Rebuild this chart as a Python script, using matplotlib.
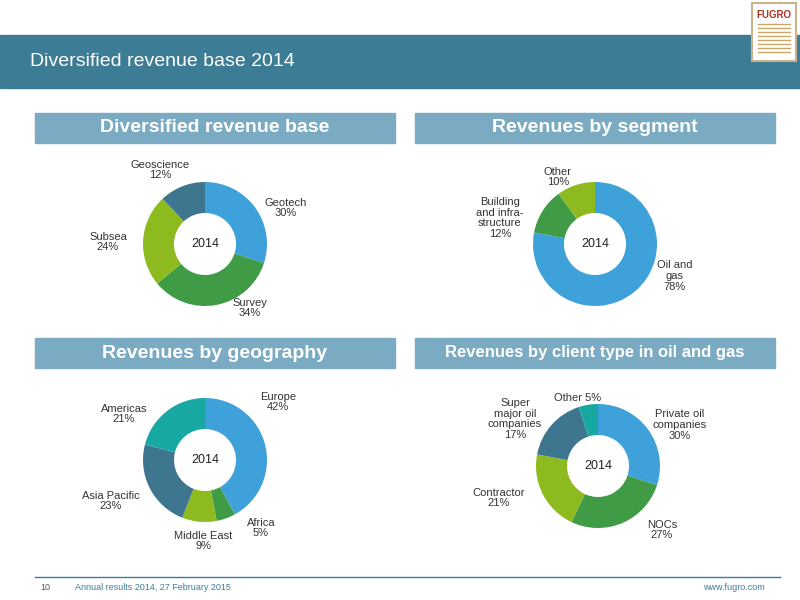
import matplotlib
matplotlib.use("Agg")
import matplotlib.pyplot as plt
from matplotlib.patches import Rectangle
plt.rcParams['font.family'] = ['Liberation Sans', 'DejaVu Sans']

BLUE, GREEN, LIME, DTEAL, TEAL = "#3fa1d9", "#3f9b46", "#8dbb1f", "#3f768f", "#17a8a1"

seg1_names = ["Geotech", "Survey", "Subsea", "Geoscience"]
seg1_vals = [30, 34, 24, 12]
seg2_names = ["Oil and\ngas", "Building\nand infra-\nstructure", "Other"]
seg2_vals = [78, 12, 10]
seg3_names = ["Europe", "Africa", "Middle East", "Asia Pacific", "Americas"]
seg3_vals = [42, 5, 9, 23, 21]
seg4_names = ["Private oil\ncompanies", "NOCs", "Contractor", "Super\nmajor oil\ncompanies", "Other"]
seg4_vals = [30, 27, 21, 17, 5]

W, H = 800, 600
fig = plt.figure(figsize=(8, 6), dpi=100)
bg = fig.add_axes([0, 0, 1, 1])
bg.set_xlim(0, W); bg.set_ylim(H, 0); bg.axis("off")

bg.add_patch(Rectangle((0, 35), W, 53, color="#3c7d95"))
bg.text(30, 62, "Diversified revenue base 2014", color="white", fontsize=14, va="center")
# logo
bg.add_patch(Rectangle((752, 3), 44, 58, facecolor="white", edgecolor="#c9b48c", lw=1.5))
bg.text(774, 15, "FUGRO", color="#b03020", fontsize=7, fontweight="bold", ha="center", va="center")
for i in range(8):
    bg.plot([758, 790], [24 + i * 4, 24 + i * 4], color="#c9a86a", lw=1)

banners = [(35, 113, "Diversified revenue base", 14), (415, 113, "Revenues by segment", 14),
           (35, 338, "Revenues by geography", 14), (415, 338, "Revenues by client type in oil and gas", 12)]
for x, y, t, fs in banners:
    bg.add_patch(Rectangle((x, y), 360, 30, color="#7aabc3"))
    bg.text(x + 180, y + 15, t, color="white", fontsize=fs, fontweight="bold", ha="center", va="center")

bg.plot([35, 780], [577, 577], color="#3c7d95", lw=1)
bg.text(40, 588, "10", fontsize=6.5, color="#555", va="center")
bg.text(75, 588, "Annual results 2014, 27 February 2015", fontsize=6.5, color="#3c7d95", va="center")
bg.text(765, 588, "www.fugro.com", fontsize=6.5, color="#3c7d95", va="center", ha="right")

def donut(cx, cy, r, vals, colors, names, label_pos):
    ax = fig.add_axes([(cx - r) / W, 1 - (cy + r) / H, 2 * r / W, 2 * r / H])
    ax.pie(vals, colors=colors, startangle=90, counterclock=False,
           wedgeprops=dict(width=0.5, edgecolor="none"))
    ax.set_xlim(-1, 1); ax.set_ylim(-1, 1); ax.set_aspect("equal")
    bg.text(cx, cy, "2014", fontsize=9, ha="center", va="center", color="#222")
    for n, v, (x, y, ha) in zip(names, vals, label_pos):
        bg.text(x, y, f"{n}\n{v}%", fontsize=8, ha=ha, va="center", color="#333", linespacing=1.1)

donut(205, 244, 62, seg1_vals, [BLUE, GREEN, LIME, DTEAL], seg1_names,
      [(286, 208, "center"), (250, 308, "center"), (108, 242, "center"), (160, 170, "center")])
donut(595, 244, 62, seg2_vals, [BLUE, GREEN, LIME], seg2_names,
      [(675, 276, "center"), (500, 218, "center"), (558, 177, "center")])
donut(205, 460, 62, seg3_vals, [BLUE, GREEN, LIME, DTEAL, TEAL], seg3_names,
      [(278, 402, "center"), (261, 528, "center"), (203, 541, "center"), (111, 501, "center"), (124, 414, "center")])
donut(598, 466, 62, seg4_vals, [BLUE, GREEN, LIME, DTEAL, TEAL], seg4_names,
      [(680, 425, "center"), (662, 530, "center"), (499, 498, "center"), (515, 419, "center")],)
bg.text(578, 398, f"{seg4_names[4]} {seg4_vals[4]}%", fontsize=8, ha="center", va="center", color="#333")

fig.savefig("out.png", dpi=100)
